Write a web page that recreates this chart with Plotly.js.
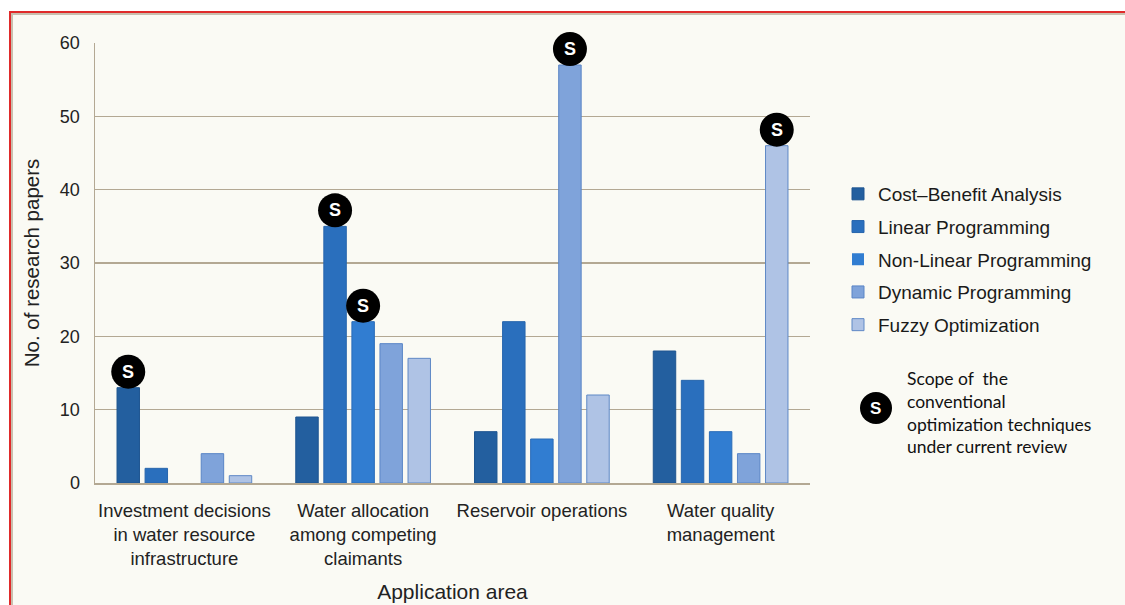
<!DOCTYPE html>
<html>
<head>
<meta charset="utf-8">
<script src="https://cdn.plot.ly/plotly-3.0.1.min.js"></script>
<style>
  html, body { margin:0; padding:0; background:#ffffff; width:1125px; height:605px; overflow:hidden; }
  #frame { position:absolute; left:9px; top:11px; width:1116px; height:594px;
           border-top:2px solid #e02a2a; border-left:2px solid #e02a2a; box-sizing:border-box; }
  #inner { position:absolute; left:0; top:0; right:0; bottom:0;
           border-top:2px solid #c9bfae; border-left:2px solid #c9bfae; background:#fafaf4; }
  #chart { position:absolute; left:0; top:0; width:1125px; height:605px; }
</style>
</head>
<body>
<div id="frame"><div id="inner"></div></div>
<div id="chart"></div>
<script>
// ---- data ----
const categories = [
  "Investment decisions<br>in water resource<br>infrastructure",
  "Water allocation<br>among competing<br>claimants",
  "Reservoir operations",
  "Water quality<br>management"
];
const seriesNames = ["Cost\u2013Benefit Analysis", "Linear Programming", "Non-Linear Programming", "Dynamic Programming", "Fuzzy Optimization"];
const costBenefit   = [13, 9, 7, 18];
const linearProg    = [2, 35, 22, 14];
const nonLinearProg = [0, 22, 6, 7];
const dynamicProg   = [4, 19, 57, 4];
const fuzzyOpt      = [1, 17, 12, 46];
const yTicks = [0, 10, 20, 30, 40, 50, 60];
// "S" scope markers: [category index, series index]
const scopeMarks = [[0, 0], [1, 1], [1, 2], [2, 3], [3, 4]];
const noteText = "Scope of  the<br>conventional<br>optimization techniques<br>under current review";

// ---- styles ----
const fills = ["#235f9f", "#2a6fbd", "#317dd1", "#7fa3da", "#afc3e5"];
const lines = ["#1e5590", "#2765ad", "#2a6cb8", "#5a85c6", "#5f89c6"];
const allSeries = [costBenefit, linearProg, nonLinearProg, dynamicProg, fuzzyOpt];
const BARGAP = 0.215, BARGROUPGAP = 0.2;
const YMAX = 60;
const FONT = "Liberation Sans, Arial, sans-serif";

const traces = allSeries.map((vals, k) => ({
  type: "bar",
  name: seriesNames[k],
  x: categories,
  y: vals,
  legendgroup: "g" + k,
  marker: { color: fills[k], line: { color: lines[k], width: vals.map(v => v === 0 ? 0 : 1) } },
  hoverinfo: "skip"
}));

const N = allSeries.length;
const nCat = categories.length;
const slot = (1 - BARGAP) / N;
const shapes = [];
const annotations = [];
scopeMarks.forEach(([i, k]) => {
  const xc = i - (1 - BARGAP) / 2 + (k + 0.5) * slot;
  const yv = allSeries[k][i];
  const px = (xc + 0.5) / nCat;   // paper position of bar centre
  const py = yv / YMAX;           // paper position of bar top
  shapes.push({
    type: "circle", xref: "paper", yref: "paper",
    xsizemode: "pixel", ysizemode: "pixel",
    xanchor: px, yanchor: py,
    x0: -17, x1: 17, y0: -1, y1: 33,
    fillcolor: "#000000", line: { width: 0 }, layer: "above"
  });
  annotations.push({
    xref: "paper", yref: "paper", x: px, y: py, yshift: 16,
    xanchor: "center", yanchor: "middle",
    text: "<b>S</b>", showarrow: false,
    font: { family: FONT, size: 18, color: "#ffffff" }
  });
});

// note marker in legend area
const noteX = (876 - 95) / 715, noteY = (483 - 408) / 440;
shapes.push({
  type: "circle", xref: "paper", yref: "paper",
  xsizemode: "pixel", ysizemode: "pixel",
  xanchor: noteX, yanchor: noteY,
  x0: -16, x1: 16, y0: -16, y1: 16,
  fillcolor: "#000000", line: { width: 0 }
});
annotations.push({
  xref: "paper", yref: "paper", x: noteX, y: noteY,
  xanchor: "center", yanchor: "middle",
  text: "<b>S</b>", showarrow: false,
  font: { family: FONT, size: 17, color: "#ffffff" }
});
annotations.push({
  xref: "paper", yref: "paper",
  x: (905 - 95) / 715, y: (483 - 366) / 440,
  xanchor: "left", yanchor: "top", align: "left",
  text: noteText, showarrow: false,
  font: { family: "Lato, Carlito, sans-serif", size: 17.5, color: "#111111" }
});

const layout = {
  width: 1125, height: 605,
  margin: { l: 95, r: 315, t: 43, b: 122 },
  paper_bgcolor: "rgba(0,0,0,0)",
  plot_bgcolor: "rgba(0,0,0,0)",
  barmode: "group",
  bargap: BARGAP,
  bargroupgap: BARGROUPGAP,
  font: { family: FONT, color: "#222222" },
  showlegend: true,
  legend: {
    x: (838 - 95) / 715, xanchor: "left",
    y: (483 - 175) / 440, yanchor: "top",
    font: { family: FONT, size: 19, color: "#1a1a1a" },
    traceorder: "grouped", tracegroupgap: 5,
    bgcolor: "rgba(0,0,0,0)"
  },
  xaxis: {
    type: "category",
    showline: true, linecolor: "#b3a893", linewidth: 1.5,
    showgrid: false, ticks: "", ticklabelstandoff: 10,
    tickfont: { family: FONT, size: 18.5, color: "#222222" },
    automargin: false,
    title: { text: "Application area", font: { family: FONT, size: 21, color: "#222222" }, standoff: 16 }
  },
  yaxis: {
    range: [0, YMAX], tickvals: yTicks, ticktext: yTicks.map(String),
    showline: true, linecolor: "#b3a893", linewidth: 1.5,
    showgrid: true, gridcolor: "#b3a893", gridwidth: 1.5,
    zeroline: false, ticks: "", ticklabelstandoff: 10,
    tickfont: { family: FONT, size: 18, color: "#222222" },
    automargin: false,
    title: { text: "No. of research papers", font: { family: FONT, size: 20.5, color: "#222222" }, standoff: 14 }
  },
  shapes: shapes,
  annotations: annotations
};

Plotly.newPlot("chart", traces, layout, { displayModeBar: false, staticPlot: true });
</script>
</body>
</html>
